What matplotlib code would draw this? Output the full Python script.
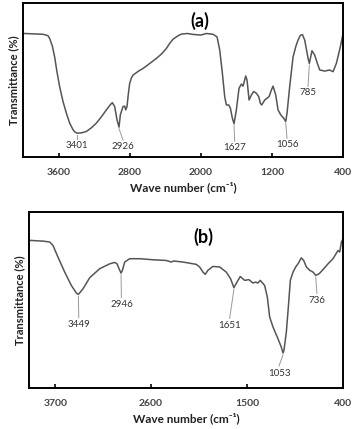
import matplotlib
matplotlib.use("Agg")
import matplotlib.pyplot as plt

plt.rcParams['font.family'] = ['Lato', 'DejaVu Sans']

# spectrum (a): wave number (cm-1) and transmittance (arbitrary, %)
wn_a = [3981, 3775, 3720, 3700, 3670, 3644, 3620, 3588, 3550, 3512, 3475, 3437,
        3415, 3393, 3340, 3287, 3230, 3175, 3120, 3062, 3020, 2995,
        2969, 2942, 2920, 2905, 2875, 2856, 2845, 2830, 2815, 2800, 2780, 2762,
        2700, 2650, 2580, 2500, 2440, 2387, 2350, 2312, 2260, 2219, 2150, 2087,
        2000, 1937, 1862, 1817, 1787, 1757, 1731, 1712, 1686,
        1667, 1645, 1626, 1600, 1570, 1543, 1525, 1495, 1480, 1457, 1431, 1405,
        1375, 1348, 1330, 1315, 1281, 1232, 1206, 1187, 1157, 1131, 1101, 1067,
        1045, 1030, 1000, 962, 930, 906, 880, 857, 831, 793, 779, 749, 719, 690,
        662, 606, 550, 512, 475, 430, 400]
tr_a = [80.2, 79.7, 78.8, 77, 72, 65, 56, 45.7, 36, 28.4, 22, 17.7,
        16.2, 15.5, 15.7, 16.6, 19, 22, 26, 30.6, 33.8, 35.3,
        32.8, 24, 19.4, 27.4, 32.8, 33, 30.6, 32.8, 41, 47.8, 51.5, 53.2,
        55.8, 57.5, 60.5, 64, 67, 70.5, 73.8, 76.5, 78.6, 79.8, 80.2, 79.6,
        79.2, 80.2, 79.7, 78, 69.4, 54.3, 39.2, 33.8, 33.8,
        31.7, 25.2, 21.6, 30.6, 44.6, 47.4, 46, 52.6, 50, 37, 40.3, 42.5,
        41.4, 39.2, 34.9, 33.8, 37, 39.2, 43.5, 46, 40.3, 30.6, 27.4, 25.2,
        23, 28.4, 45.7, 65, 72, 75.9, 79, 79.5, 75.9, 64, 60.8, 69, 66.2, 61,
        56.5, 55.8, 56.5, 55.4, 60.8, 71.6, 80.2]

# spectrum (b)
wn_b = [3985, 3839, 3763, 3725, 3668, 3591, 3515, 3457, 3434, 3381, 3304, 3190,
        3075, 3018, 2991, 2968, 2945, 2930, 2903, 2846, 2731, 2578, 2426, 2369,
        2342, 2235, 2083, 2044, 2006, 1980, 1949, 1892, 1815, 1739, 1689, 1651,
        1616, 1578, 1529, 1479, 1433, 1403, 1376, 1349, 1299, 1268, 1241, 1203,
        1146, 1108, 1088, 1077, 1050, 1027, 1004, 973, 943, 916, 878, 851, 820,
        782, 744, 713, 675, 637, 572, 515, 457, 438, 419, 400]
tr_b = [83.9, 83.5, 83, 81, 74.4, 65.9, 58.3, 54, 53.2, 56.4, 62.7, 67.8,
        70.6, 71.4, 70.6, 67.8, 65.3, 66.8, 71.6, 73.5, 73.5, 72.9, 72.5, 71.6,
        72.2, 71.6, 70.3, 68.8, 65.9, 64.6, 66.9, 69.1, 68.8, 65.9, 62.1, 57,
        60.2, 63.4, 61.2, 61.6, 59.7, 60.2, 59.7, 61.2, 58.3, 51.7, 40.3, 34.7,
        28, 23.3, 19.9, 21.4, 31.8, 46, 61.2, 65.9, 68.8, 70.6, 74, 72.5, 68.8,
        66.9, 65.9, 64, 64.9, 66.9, 70.6, 73.5, 78.2, 77.3, 82.9, 84.8]

# peak labels: text, peak (x, y), label (x, y)
peaks_a = [("3401", 3393, 15.5, 3393, 7.5),
           ("2926", 2920, 19.4, 2875, 6.9),
           ("1627", 1626, 21.6, 1619, 6.3),
           ("1056", 1045, 23, 1030, 8.0),
           ("785", 779, 60.8, 794, 41.8)]
peaks_b = [("3449", 3434, 53.2, 3430, 36),
           ("2946", 2945, 65.3, 2941, 47.5),
           ("1651", 1651, 57, 1700, 35.6),
           ("1053", 1088, 19.9, 1134, 8.5),
           ("736", 713, 64, 699, 49.8)]

ticks_a = [3600, 2800, 2000, 1200, 400]
ticks_b = [3700, 2600, 1500, 400]

fig = plt.figure(figsize=(3.54, 4.29), dpi=100)
ax1 = fig.add_axes([0.065, 0.634, 0.904, 0.359])
ax2 = fig.add_axes([0.082, 0.0956, 0.887, 0.410])


def draw(ax, wn, tr, peaks, ticks, title, title_x, title_y):
    ax.plot(wn, tr, color='#555555', lw=1.1)
    for txt, px, py, lx, ly in peaks:
        ax.plot([px, lx], [py - 1, ly + 4], color='#999999', lw=0.7)
        ax.text(lx, ly, txt, ha='center', va='center', fontsize=7, color='#333333')
    ax.text(title_x, title_y, title, ha='center', va='center', fontsize=13,
            fontweight='bold')
    ax.set_xlim(4000, 400)
    ax.set_ylim(0, 100)
    ax.set_xticks(ticks)
    ax.set_xticklabels([str(t) for t in ticks], fontsize=7.5, color='#444444',
                       fontweight='bold')
    ax.tick_params(axis='x', direction='in', length=3, width=1.2, pad=8)
    ax.set_yticks([])
    for s in ax.spines.values():
        s.set_linewidth(1.4)
    ax.set_xlabel('Wave number (cm\u207b\u00b9)', fontsize=8.5, fontweight='bold',
                  color='#222222', labelpad=3)
    ax.set_ylabel('Transmittance (%)', fontsize=8, fontweight='bold',
                  color='#222222', labelpad=3)


draw(ax1, wn_a, tr_a, peaks_a, ticks_a, '(a)', 2012, 88.4)
draw(ax2, wn_b, tr_b, peaks_b, ticks_b, '(b)', 2006, 85.8)

fig.savefig('out.png', dpi=100)
